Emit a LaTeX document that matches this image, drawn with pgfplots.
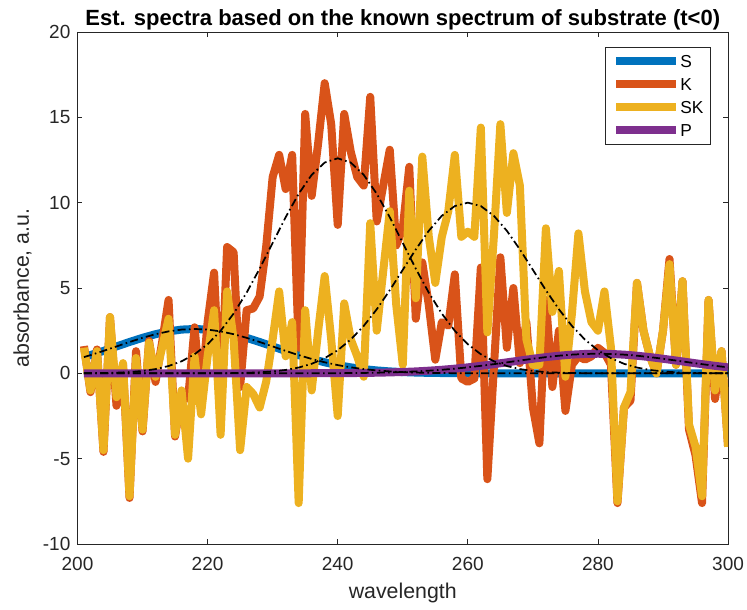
\documentclass[border=0pt]{standalone}
\usepackage{fontspec}
\setmainfont{Liberation Sans}
\usepackage{pgfplots}
\usepackage{pgfplotstable}
\pgfplotsset{compat=1.18}
\definecolor{mS}{rgb}{0,0.447,0.741}
\definecolor{mK}{rgb}{0.85,0.325,0.098}
\definecolor{mSK}{rgb}{0.929,0.694,0.125}
\definecolor{mP}{rgb}{0.494,0.184,0.556}
\definecolor{axc}{rgb}{0.15,0.15,0.15}
\pgfplotstableread{
x K SK
201 1.6 1.5
202 -1.1 -1.0
203 1.4 1.3
204 -4.6 -4.5
205 3.3 3.3
206 -1.9 -1.4
207 0.5 0.6
208 -7.3 -7.2
209 1.3 0.9
210 -3.4 -3.3
211 1.9 1.8
212 -0.5 -0.2
213 1.8 1.5
214 4.3 3.2
215 -3.7 -3.6
216 -1.3 -1.0
217 -1.5 -5.0
218 2.7 1.0
219 -1.5 -2.4
220 3.0 1.0
221 5.9 3.7
222 -2.0 -3.6
223 7.4 4.8
224 7.1 2.0
225 -0.8 -4.5
226 3.7 -0.8
227 3.8 -1.2
228 4.5 -2.0
229 7.4 -0.5
230 11.5 2.0
231 12.8 4.8
232 10.8 1.0
233 12.8 3.0
234 1.5 -7.6
235 15.2 3.7
236 10.4 -1.0
237 13.5 2.5
238 17.0 5.7
239 14.6 2.0
240 8.7 -2.5
241 15.2 4.1
242 13.0 2.0
243 11.5 1.0
244 11.0 -0.2
245 16.2 8.8
246 8.9 2.5
247 11.0 6.0
248 13.1 9.5
249 7.5 4.0
250 8.5 0.5
251 12.1 10.7
252 3.2 4.4
253 6.5 12.7
254 4.0 8.0
255 0.8 5.3
256 3.0 8.0
257 2.8 9.5
258 5.8 12.8
259 -0.3 8.0
260 -0.5 8.3
261 -0.3 8.0
262 6.2 14.4
263 -6.2 2.4
264 0.3 8.0
265 6.8 14.6
266 1.5 9.4
267 5.0 12.9
268 0.6 11.0
269 3.0 2.0
270 -2.0 0.5
271 -4.1 0.5
272 4.3 8.5
273 -0.8 3.6
274 2.5 6.0
275 -2.2 -0.2
276 0.5 3.5
277 1.0 8.2
278 0.8 4.8
279 1.0 3.0
280 1.5 2.5
281 1.2 4.8
282 0.5 1.5
283 -7.6 -7.5
284 -2.0 -2.0
285 -1.6 -1.1
286 5.3 5.3
287 2.5 2.5
288 1.0 1.0
289 0.0 0.0
290 2.5 2.5
291 6.7 6.4
292 0.5 0.5
293 5.4 5.4
294 -3.3 -3.0
295 -4.8 -4.3
296 -7.6 -7.2
297 4.3 4.3
298 -1.5 -1.0
299 1.3 1.3
300 -4.3 -4.3
}\dataKSK
\begin{document}
\begin{tikzpicture}
\useasboundingbox (-58.1pt,-48.75pt) rectangle (502.1pt,408pt);
\begin{axis}[
  at={(0,0)}, anchor=south west,
  scale only axis, width=487.9pt, height=384pt,
  xmin=200, xmax=300, ymin=-10, ymax=20,
  xtick={200,220,240,260,280,300}, ytick={-10,-5,0,5,10,15,20},
  tick align=inside, major tick length=3.75pt,
  axis line style={axc, line width=0.6pt},
  every tick/.style={axc, line width=0.6pt},
  /pgf/number format/assume math mode=true,
  tick label style={font=\fontsize{14.25}{16}\selectfont, text=axc},
  xticklabel style={yshift=-6.3pt},
  yticklabel style={xshift=-1.8pt},
  xlabel={wavelength}, ylabel={absorbance, a.u.},
  every axis x label/.style={at={(axis description cs:0.5,-0.0951)}, anchor=center, font=\fontsize{16}{18}\selectfont, text=axc},
  every axis y label/.style={at={(axis description cs:-0.0846,0.5)}, anchor=center, rotate=90, font=\fontsize{16}{18}\selectfont, text=axc},
  title={\textbf{Est. spectra based on the known spectrum of substrate (t<0)}},
  every axis title/.style={at={(axis description cs:0.5,1)}, anchor=base, yshift=5pt, font=\fontsize{16.5}{18}\selectfont, text=black},
  legend style={at={(1,1)}, anchor=north east, xshift=-12.75pt, yshift=-11.25pt,
    draw=axc, line width=0.5pt, fill=white,
    font=\fontsize{13}{14}\selectfont,
    inner xsep=5.4pt, inner ysep=5.8pt, row sep=8pt,
    nodes={inner sep=0pt, text height=9.3pt, text depth=0pt, anchor=west},
    /tikz/every even column/.append style={column sep=3pt}},
  legend cell align=left,
  legend image code/.code={\draw[#1, line width=6pt, line cap=butt] (0pt,0pt) -- (45pt,0pt);},
  every axis plot/.append style={line join=round},
]
\addplot[mS, line width=6pt] coordinates {(201,0.953)(202,1.069)(204,1.316)(206,1.577)(208,1.837)(210,2.082)(212,2.295)(214,2.459)(216,2.564)(218,2.6)(220,2.564)(222,2.459)(224,2.295)(226,2.082)(228,1.837)(230,1.577)(232,1.316)(234,1.069)(236,0.844)(238,0.648)(240,0.484)(242,0.352)(244,0.249)(246,0.171)(248,0.114)(250,0.074)(252,0.047)(254,0.029)(258,0.010)(264,0.002)(270,0)(300,0)};
\addlegendentry{S}
\addplot[mK, line width=6pt] table[x=x, y=K] {\dataKSK};
\addlegendentry{K}
\addplot[mSK, line width=6pt] table[x=x, y=SK] {\dataKSK};
\addlegendentry{SK}
\addplot[mP, line width=6pt] coordinates {(201,0)(230,0.001)(240,0.010)(244,0.025)(246,0.038)(248,0.056)(250,0.080)(252,0.113)(254,0.156)(256,0.209)(258,0.275)(260,0.352)(262,0.441)(264,0.539)(266,0.644)(268,0.751)(270,0.855)(272,0.952)(274,1.034)(276,1.097)(278,1.136)(280,1.15)(282,1.136)(284,1.097)(286,1.034)(288,0.952)(290,0.855)(292,0.751)(294,0.644)(296,0.539)(298,0.441)(300,0.352)};
\addlegendentry{P}
\pgfplotsset{every axis plot/.append style={forget plot}}
\addplot[black, line width=1.3pt, dash pattern=on 6pt off 2.5pt on 1.2pt off 2.5pt] coordinates {(201,0.953)(202,1.069)(204,1.316)(206,1.577)(208,1.837)(210,2.082)(212,2.295)(214,2.459)(216,2.564)(218,2.6)(220,2.564)(222,2.459)(224,2.295)(226,2.082)(228,1.837)(230,1.577)(232,1.316)(234,1.069)(236,0.844)(238,0.648)(240,0.484)(242,0.352)(244,0.249)(246,0.171)(248,0.114)(250,0.074)(252,0.047)(254,0.029)(258,0.010)(264,0.002)(270,0)(300,0)};
\addplot[black, line width=1.3pt, dash pattern=on 6pt off 2.5pt on 1.2pt off 2.5pt] coordinates {(201,0.006)(204,0.019)(206,0.039)(208,0.075)(210,0.140)(212,0.250)(214,0.429)(216,0.707)(218,1.120)(220,1.705)(222,2.493)(224,3.503)(226,4.729)(228,6.133)(230,7.642)(232,9.149)(234,10.52)(236,11.63)(238,12.35)(240,12.6)(242,12.35)(244,11.63)(246,10.52)(248,9.149)(250,7.642)(252,6.133)(254,4.729)(256,3.503)(258,2.493)(260,1.705)(262,1.120)(264,0.707)(266,0.429)(268,0.250)(270,0.140)(272,0.075)(274,0.039)(276,0.019)(280,0.004)(300,0)};
\addplot[black, line width=1.3pt, dash pattern=on 6pt off 2.5pt on 1.2pt off 2.5pt] coordinates {(201,0)(220,0.003)(224,0.015)(226,0.031)(228,0.060)(230,0.111)(232,0.198)(234,0.340)(236,0.561)(238,0.889)(240,1.353)(242,1.979)(244,2.780)(246,3.753)(248,4.868)(250,6.065)(252,7.261)(254,8.353)(256,9.231)(258,9.802)(260,10)(262,9.802)(264,9.231)(266,8.353)(268,7.261)(270,6.065)(272,4.868)(274,3.753)(276,2.780)(278,1.979)(280,1.353)(282,0.889)(284,0.561)(286,0.340)(288,0.198)(290,0.111)(292,0.060)(294,0.031)(296,0.015)(300,0.003)};
\addplot[black, line width=1.3pt, dash pattern=on 6pt off 2.5pt on 1.2pt off 2.5pt] coordinates {(201,0)(230,0.001)(240,0.010)(244,0.025)(246,0.038)(248,0.056)(250,0.080)(252,0.113)(254,0.156)(256,0.209)(258,0.275)(260,0.352)(262,0.441)(264,0.539)(266,0.644)(268,0.751)(270,0.855)(272,0.952)(274,1.034)(276,1.097)(278,1.136)(280,1.15)(282,1.136)(284,1.097)(286,1.034)(288,0.952)(290,0.855)(292,0.751)(294,0.644)(296,0.539)(298,0.441)(300,0.352)};
\end{axis}
\end{tikzpicture}
\end{document}
